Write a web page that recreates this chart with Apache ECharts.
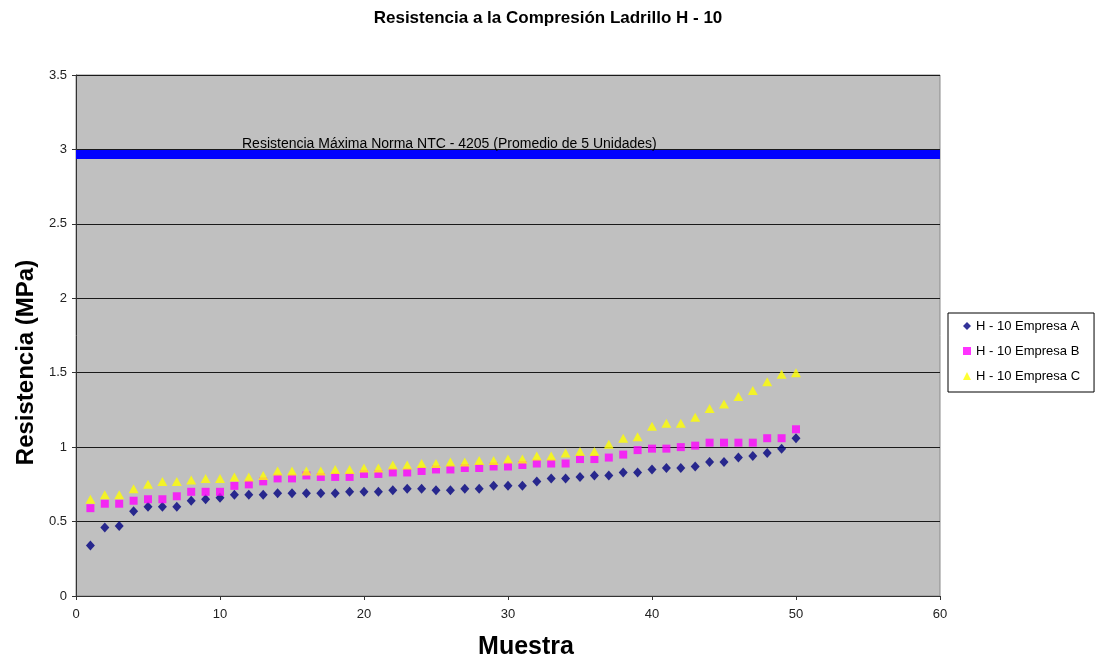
<!DOCTYPE html>
<html>
<head>
<meta charset="utf-8">
<title>Resistencia a la Compresión Ladrillo H - 10</title>
<script src="https://cdn.jsdelivr.net/npm/echarts@6/dist/echarts.min.js"></script>
<style>
  html, body { margin: 0; padding: 0; background: #ffffff; }
  #chart { width: 1096px; height: 665px; }
</style>
</head>
<body>
<div id="chart"></div>
<script>
// Número de muestra (eje X)
const SAMPLES = [1, 2, 3, 4, 5, 6, 7, 8, 9, 10,
  11, 12, 13, 14, 15, 16, 17, 18, 19, 20,
  21, 22, 23, 24, 25, 26, 27, 28, 29, 30,
  31, 32, 33, 34, 35, 36, 37, 38, 39, 40,
  41, 42, 43, 44, 45, 46, 47, 48, 49, 50];

// Resistencia a la compresión (MPa) por empresa
const EMPRESA_A = [0.34, 0.46, 0.47, 0.57, 0.60, 0.60, 0.60, 0.64, 0.65, 0.66,
  0.68, 0.68, 0.68, 0.69, 0.69, 0.69, 0.69, 0.69, 0.70, 0.70,
  0.70, 0.71, 0.72, 0.72, 0.71, 0.71, 0.72, 0.72, 0.74, 0.74,
  0.74, 0.77, 0.79, 0.79, 0.80, 0.81, 0.81, 0.83, 0.83, 0.85,
  0.86, 0.86, 0.87, 0.90, 0.90, 0.93, 0.94, 0.96, 0.99, 1.06];

const EMPRESA_B = [0.59, 0.62, 0.62, 0.64, 0.65, 0.65, 0.67, 0.70, 0.70, 0.70,
  0.74, 0.75, 0.77, 0.79, 0.79, 0.81, 0.80, 0.80, 0.80, 0.82,
  0.82, 0.83, 0.83, 0.84, 0.85, 0.85, 0.86, 0.86, 0.87, 0.87,
  0.88, 0.89, 0.89, 0.89, 0.92, 0.92, 0.93, 0.95, 0.98, 0.99,
  0.99, 1.00, 1.01, 1.03, 1.03, 1.03, 1.03, 1.06, 1.06, 1.12];

const EMPRESA_C = [0.65, 0.68, 0.68, 0.72, 0.75, 0.77, 0.77, 0.78, 0.79, 0.79,
  0.80, 0.80, 0.81, 0.84, 0.84, 0.84, 0.84, 0.85, 0.85, 0.86,
  0.86, 0.88, 0.88, 0.89, 0.89, 0.90, 0.90, 0.91, 0.91, 0.92,
  0.92, 0.94, 0.94, 0.96, 0.97, 0.97, 1.02, 1.06, 1.07, 1.14,
  1.16, 1.16, 1.20, 1.26, 1.29, 1.34, 1.38, 1.44, 1.49, 1.50];

const SERIES_NAMES = ['H - 10 Empresa A', 'H - 10 Empresa B', 'H - 10 Empresa C'];

// Línea de referencia de la norma
const LIMIT_VALUE = 2.97;
const LIMIT_LABEL = 'Resistencia Máxima Norma NTC - 4205 (Promedio de 5 Unidades)';

const FONT = '"Liberation Sans", Arial, sans-serif';

function pairs(values) {
  return values.map((v, i) => [SAMPLES[i], v]);
}

const chart = echarts.init(document.getElementById('chart'), null, { renderer: 'canvas' });

chart.setOption({
  animation: false,
  backgroundColor: '#ffffff',
  textStyle: { fontFamily: FONT },
  title: {
    text: 'Resistencia a la Compresión Ladrillo H - 10',
    left: 'center',
    top: 5,
    textStyle: { fontFamily: FONT, fontSize: 17, fontWeight: 'bold', color: '#000000' }
  },
  grid: {
    left: 76,
    top: 75,
    right: 156,
    bottom: 68,
    show: true,
    backgroundColor: '#C0C0C0',
    borderColor: '#8a8a8a',
    borderWidth: 1
  },
  legend: {
    orient: 'vertical',
    left: 948,
    top: 313,
    data: SERIES_NAMES,
    backgroundColor: '#ffffff',
    borderColor: '#000000',
    borderWidth: 1,
    borderRadius: 0,
    padding: [6, 14, 9, 15],
    itemWidth: 8,
    itemHeight: 8,
    itemGap: 11,
    textStyle: { fontFamily: FONT, fontSize: 13, color: '#000000', lineHeight: 14 }
  },
  xAxis: {
    type: 'value',
    min: 0,
    max: 60,
    interval: 10,
    name: 'Muestra',
    nameLocation: 'middle',
    nameGap: 39,
    nameTextStyle: { fontFamily: FONT, fontSize: 25, fontWeight: 'bold', color: '#000000', padding: [0, 0, 0, 36] },
    axisLine: { show: true, onZero: false, lineStyle: { color: '#333333', width: 1 } },
    axisTick: { show: true, length: 4, lineStyle: { color: '#333333' } },
    axisLabel: { margin: 12, fontFamily: FONT, fontSize: 13, color: '#222222' },
    splitLine: { show: false }
  },
  yAxis: {
    type: 'value',
    min: 0,
    max: 3.5,
    interval: 0.5,
    name: 'Resistencia (MPa)',
    nameLocation: 'middle',
    nameGap: 36,
    nameTextStyle: { fontFamily: FONT, fontSize: 24, fontWeight: 'bold', color: '#000000', padding: [0, 54, 0, 0] },
    axisLine: { show: true, onZero: false, lineStyle: { color: '#333333', width: 1 } },
    axisTick: { show: true, length: 4, lineStyle: { color: '#333333' } },
    axisLabel: { margin: 9, fontFamily: FONT, fontSize: 13, color: '#222222' },
    splitLine: { show: true, lineStyle: { color: '#1a1a1a', width: 1 } }
  },
  series: [
    {
      name: SERIES_NAMES[0],
      type: 'scatter',
      symbol: 'diamond',
      symbolSize: [9, 10],
      itemStyle: { color: '#000080' },
      data: pairs(EMPRESA_A),
      markLine: {
        silent: true,
        symbol: ['none', 'none'],
        lineStyle: { color: '#0000FF', width: 9, type: 'solid' },
        label: {
          show: true,
          position: 'insideStartTop',
          distance: [166, 3],
          formatter: LIMIT_LABEL,
          fontFamily: FONT,
          fontSize: 14,
          color: '#000000'
        },
        data: [{ yAxis: LIMIT_VALUE }]
      },
      z: 3
    },
    {
      name: SERIES_NAMES[1],
      type: 'scatter',
      symbol: 'rect',
      symbolSize: 8,
      itemStyle: { color: '#FF00FF' },
      data: pairs(EMPRESA_B),
      z: 4
    },
    {
      name: SERIES_NAMES[2],
      type: 'scatter',
      symbol: 'triangle',
      symbolSize: [10, 9],
      itemStyle: { color: '#FFFF00' },
      data: pairs(EMPRESA_C),
      z: 5
    }
  ]
});
</script>
</body>
</html>
